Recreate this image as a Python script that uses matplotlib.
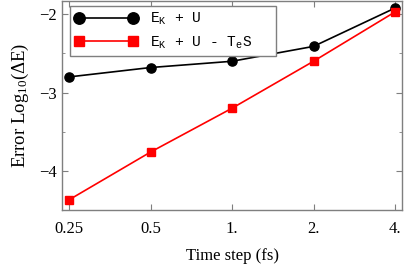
import matplotlib
matplotlib.use("Agg")
import matplotlib.pyplot as plt
from matplotlib.ticker import FixedLocator, FixedFormatter, NullLocator

# datos
pasos = [0.25, 0.5, 1.0, 2.0, 4.0]
etiquetas_x = ["0.25", "0.5", "1.", "2.", "4."]
error_ek_u = [-2.80, -2.68, -2.60, -2.41, -1.92]
error_ek_u_ts = [-4.37, -3.76, -3.20, -2.60, -1.97]

plt.rcParams["font.family"] = "Liberation Serif"
plt.rcParams["mathtext.fontset"] = "custom"
plt.rcParams["mathtext.rm"] = "Liberation Serif"
plt.rcParams["mathtext.it"] = "Liberation Serif:italic"
plt.rcParams["mathtext.tt"] = "Liberation Mono"

gris = "#7f7f7f"

fig = plt.figure(figsize=(4.15, 2.69), dpi=100)
ax = fig.add_axes([0.1494, 0.2193, 0.8193, 0.7770])

ax.plot(pasos, error_ek_u, color="black", marker="o", markersize=6.6, lw=1.2,
        label=r"E$_\mathtt{K}$ + U")
ax.plot(pasos, error_ek_u_ts, color="red", marker="s", markersize=5.8, lw=1.2,
        label=r"E$_\mathtt{K}$ + U - T$_\mathtt{e}$S   ")

ax.set_xscale("log", base=2)
ax.set_xlim(0.25 * 2 ** -0.086, 4 * 2 ** 0.086)
ax.set_ylim(-4.45, -1.83)
ax.xaxis.set_major_locator(FixedLocator(pasos))
ax.xaxis.set_major_formatter(FixedFormatter(etiquetas_x))
ax.xaxis.set_minor_locator(NullLocator())
ax.set_yticks([-4, -3, -2])
ax.set_yticklabels(["\u22124", "\u22123", "\u22122"])
ax.set_yticks([-4.5, -3.5, -2.5], minor=True)

for s in ax.spines.values():
    s.set_color(gris)
    s.set_linewidth(1.0)
ax.tick_params(which="both", direction="in", color=gris, top=True, right=True,
               labelsize=12)
ax.tick_params(which="major", length=4)
ax.tick_params(which="minor", length=2.2)
ax.tick_params(axis="x", pad=8)

ax.set_xlabel("Time step (fs)", fontsize=12, labelpad=8)
ax.set_ylabel("Error Log$_{10}$(\u0394E)", fontsize=13.5, labelpad=6)

leg = ax.legend(loc="upper left", bbox_to_anchor=(0.0235, 0.976), borderaxespad=0,
                prop={"family": "Liberation Mono", "size": 10.5}, fancybox=False,
                edgecolor=gris, handlelength=4.3, borderpad=0.35, labelspacing=0.5,
                handletextpad=0.85, numpoints=2, markerscale=1.25)
leg.get_frame().set_linewidth(1.0)
leg.get_frame().set_alpha(1)

fig.savefig("out.png", dpi=100)
